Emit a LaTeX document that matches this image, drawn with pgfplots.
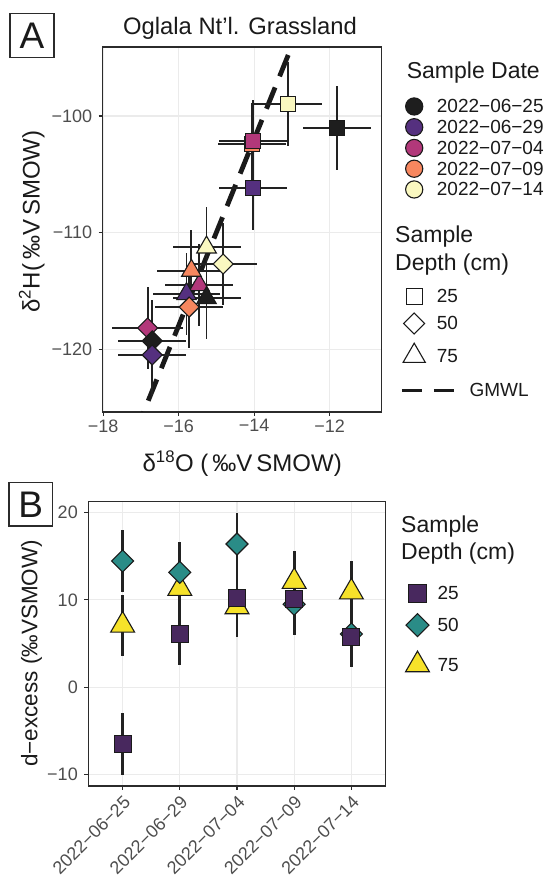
\documentclass[border=0pt]{standalone}
\usepackage{fontspec}
\setmainfont{Liberation Sans}
\usepackage{pgfplots}
\usepackage{pgfplotstable}
\pgfplotsset{compat=1.18}

% magma (dates) and viridis (depths)
\definecolor{dA}{HTML}{1E1E1E}
\definecolor{dB}{HTML}{55307F}
\definecolor{dC}{HTML}{B2387A}
\definecolor{dD}{HTML}{F7875F}
\definecolor{dE}{HTML}{FAF8C0}
\definecolor{vA}{HTML}{48285E}
\definecolor{vB}{HTML}{2A8C87}
\definecolor{vC}{HTML}{F6E22A}
\definecolor{olk}{HTML}{1A1A1A}
\definecolor{ebc}{HTML}{222222}
\definecolor{gridc}{HTML}{EBEBEB}
\definecolor{tcol}{HTML}{4D4D4D}
\definecolor{frm}{HTML}{2B2B2B}

\pgfdeclareplotmark{rdiamond}{%
  \pgfpathmoveto{\pgfqpoint{0pt}{\pgfplotmarksize}}%
  \pgfpathlineto{\pgfqpoint{\pgfplotmarksize}{0pt}}%
  \pgfpathlineto{\pgfqpoint{0pt}{-\pgfplotmarksize}}%
  \pgfpathlineto{\pgfqpoint{-\pgfplotmarksize}{0pt}}%
  \pgfpathclose
  \pgfusepathqfillstroke}

% panel A: d18O, d2H, errors, date
\pgfplotstableread{
x y ex ey d
-14.06 -102.40 0.9 3.5 D
-14.04 -102.15 0.9 3.5 C
-14.02 -106.20 0.9 3.6 B
-11.81 -101.00 0.9 3.6 A
-13.09 -98.97 0.9 3.6 E
}\sqtab
\pgfplotstableread{
x y ex ey d
-15.45 -114.50 0.9 3.5 C
-15.79 -115.27 0.9 3.5 B
-15.66 -113.27 0.9 3.5 D
-15.26 -111.27 0.9 3.5 E
-15.26 -115.62 0.9 3.5 A
}\tritab
\pgfplotstableread{
x y ex ey d
-16.82 -118.20 0.95 3.5 C
-16.70 -119.30 0.9 3.5 A
-16.70 -120.50 0.9 3.5 B
-15.72 -116.40 0.9 3.5 D
-14.82 -112.70 0.9 3.5 E
}\diatab

% panel B: d-excess by date and depth
\pgfplotstableread{
x d25 d50 d75 e
1 -6.5 14.45 7.1 3.5
2 6.1 13.15 11.3 3.5
3 10.2 16.4 9.2 3.5
4 10.1 9.5 12.1 3.5
5 5.8 6.1 10.9 3.5
}\dex

\pgfplotsset{
  panel/.style={scale only axis, anchor=south west,
    grid=major, major grid style={gridc, line width=1.1pt},
    axis line style={frm, line width=1.4pt},
    tick align=outside, tick pos=left, major tick length=4pt,
    tick style={frm, line width=1.1pt},
    ticklabel style={font=\fontsize{18}{18}\selectfont, text=tcol},
    yticklabel style={xshift=-3pt},
    label style={text=olk}},
  datecls/.style={scatter, only marks, scatter src=explicit symbolic,
    mark options={draw=olk, line width=1.1pt},
    scatter/classes={
      A={draw=olk, fill=dA}, B={draw=olk, fill=dB}, C={draw=olk, fill=dC},
      D={draw=olk, fill=dD}, E={draw=olk, fill=dE}}},
  ebars/.style={only marks, mark=none, error bars/.cd,
    x dir=both, x explicit, y dir=both, y explicit, error mark=none,
    error bar style={line width=1.9pt, ebc}},
  % small hidden axis whose top-left corner is the legend's top-left corner
  legax/.style={anchor=north west, scale only axis,
    width=1pt, height=1pt, xmin=0, xmax=1, ymin=0, ymax=1,
    hide axis, legend cell align=left,
    legend style={at={(0,1)}, anchor=north west, draw=none, fill=none,
      inner sep=0pt, row sep=0pt, column sep=0pt,
      font=\fontsize{19}{19}\selectfont, text=olk,
      nodes={inner sep=0pt, text height=13pt, text depth=0pt}}},
}

\begin{document}
\begin{tikzpicture}
\useasboundingbox (0pt,0pt) rectangle (547pt,877pt);

% ---------------- panel A ----------------
\begin{axis}[panel, at={(102.7pt,465pt)}, width=279pt, height=365pt,
  xmin=-18.01, xmax=-10.62, ymin=-125.4, ymax=-94.08,
  xtick={-18,-16,-14,-12}, xticklabels={−18,−16,−14,−12},
  ytick={-120,-110,-100}, yticklabels={−120,−110,−100},
  xlabel={δ\textsuperscript{18}O (\,‰V\,SMOW)},
  ylabel={δ\textsuperscript{2}H(\,‰V\,SMOW)},
  label style={font=\fontsize{24}{24}\selectfont},
  xlabel style={at={(axis description cs:0.5,0)}, anchor=base, yshift=-59.7pt},
  ylabel style={at={(axis description cs:-0.2258,0.522)}, anchor=base},
]
\addplot[dash pattern=on 23pt off 12pt, line width=4.8pt, olk] coordinates {(-17.5,-130) (-12.5,-90)};
\addplot[ebars] table[x=x, y=y, x error=ex, y error=ey] {\sqtab};
\addplot[ebars] table[x=x, y=y, x error=ex, y error=ey] {\tritab};
\addplot[ebars] table[x=x, y=y, x error=ex, y error=ey] {\diatab};
\addplot[datecls, mark=square*, mark size=7.5pt] table[x=x, y=y, meta=d] {\sqtab};
\addplot[datecls, mark=triangle*, mark size=11.3pt] table[x=x, y=y, meta=d] {\tritab};
\addplot[datecls, mark=rdiamond, mark size=10pt] table[x=x, y=y, meta=d] {\diatab};
\end{axis}

% ---------------- panel B ----------------
\begin{axis}[panel, at={(88.3pt,91pt)}, width=297.4pt, height=284.3pt,
  xmin=0.4, xmax=5.6, ymin=-11.3, ymax=21.24,
  xtick={1,2,3,4,5},
  xticklabels={2022−06−25,2022−06−29,2022−07−04,2022−07−09,2022−07−14},
  xticklabel style={rotate=45, anchor=north east},
  ytick={-10,0,10,20}, yticklabels={−10,0,10,20},
  ylabel={d−excess (‰VSMOW)},
  label style={font=\fontsize{22.5}{22.5}\selectfont},
  ylabel style={at={(axis description cs:-0.1715,0.467)}, anchor=base},
]
\addplot[only marks, mark=none, error bars/.cd, y dir=both, y explicit, error mark=none,
  error bar style={line width=2.7pt, ebc}] table[x=x, y=d75, y error=e] {\dex};
\addplot[only marks, mark=none, error bars/.cd, y dir=both, y explicit, error mark=none,
  error bar style={line width=2.7pt, ebc}] table[x=x, y=d50, y error=e] {\dex};
\addplot[only marks, mark=none, error bars/.cd, y dir=both, y explicit, error mark=none,
  error bar style={line width=2.7pt, ebc}] table[x=x, y=d25, y error=e] {\dex};
\addplot[only marks, mark=triangle*, mark size=13.8pt,
  mark options={draw=olk, line width=1.1pt, fill=vC}] table[x=x, y=d75] {\dex};
\addplot[only marks, mark=rdiamond, mark size=11pt,
  mark options={draw=olk, line width=1.1pt, fill=vB}] table[x=x, y=d50] {\dex};
\addplot[only marks, mark=square*, mark size=8.5pt,
  mark options={draw=olk, line width=1.1pt, fill=vA}] table[x=x, y=d25] {\dex};
\end{axis}

% ---------------- legends ----------------
\begin{axis}[legax, at={(403pt,781.1pt)}]
\addlegendimage{legend image code/.code={\path[draw=none, fill=none] (0pt,-10.375pt) rectangle (33.7pt,10.375pt);
  \draw[overlay, draw=olk, line width=1.1pt, fill=dA] (11pt,0pt) circle (8.6pt);}}
\addlegendentry{2022−06−25}
\addlegendimage{legend image code/.code={\path[draw=none, fill=none] (0pt,-10.375pt) rectangle (33.7pt,10.375pt);
  \draw[overlay, draw=olk, line width=1.1pt, fill=dB] (11pt,0pt) circle (8.6pt);}}
\addlegendentry{2022−06−29}
\addlegendimage{legend image code/.code={\path[draw=none, fill=none] (0pt,-10.375pt) rectangle (33.7pt,10.375pt);
  \draw[overlay, draw=olk, line width=1.1pt, fill=dC] (11pt,0pt) circle (8.6pt);}}
\addlegendentry{2022−07−04}
\addlegendimage{legend image code/.code={\path[draw=none, fill=none] (0pt,-10.375pt) rectangle (33.7pt,10.375pt);
  \draw[overlay, draw=olk, line width=1.1pt, fill=dD] (11pt,0pt) circle (8.6pt);}}
\addlegendentry{2022−07−09}
\addlegendimage{legend image code/.code={\path[draw=none, fill=none] (0pt,-10.375pt) rectangle (33.7pt,10.375pt);
  \draw[overlay, draw=olk, line width=1.1pt, fill=dE] (11pt,0pt) circle (8.6pt);}}
\addlegendentry{2022−07−14}
\end{axis}

\begin{axis}[legax, at={(403pt,594.2pt)}]
\addlegendimage{legend image code/.code={\path[draw=none, fill=none] (0pt,-13.5pt) rectangle (33.7pt,13.5pt);
  \draw[overlay, draw=olk, line width=1.1pt, fill=white] (3pt,-8pt) rectangle (19pt,8pt);}}
\addlegendentry{25}
\addlegendimage{legend image code/.code={\path[draw=none, fill=none] (0pt,-13.5pt) rectangle (33.7pt,13.5pt);
  \draw[overlay, draw=olk, line width=1.1pt, fill=white] (11pt,10.5pt) -- (21.5pt,0pt) -- (11pt,-10.5pt) -- (0.5pt,0pt) -- cycle;}}
\addlegendentry{50}
\addlegendimage{legend image code/.code={\path[draw=none, fill=none] (0pt,-19pt) rectangle (33.7pt,19pt);
  \draw[overlay, draw=olk, line width=1.1pt, fill=white] (11pt,12.8pt) -- (22.1pt,-6.4pt) -- (-0.1pt,-6.4pt) -- cycle;}}
\addlegendentry{75}
\addlegendimage{legend image code/.code={\path[draw=none, fill=none] (0pt,-15.5pt) rectangle (33.7pt,15.5pt);
  \draw[overlay, olk, line width=2.7pt, dash pattern=on 20pt off 12pt] (-1.3pt,0pt) -- (52pt,0pt);}}
\addlegendentry{\hspace{32.6pt}GMWL}
\end{axis}

\begin{axis}[legax, at={(406.3pt,298pt)}]
\addlegendimage{legend image code/.code={\path[draw=none, fill=none] (0pt,-14pt) rectangle (31pt,14pt);
  \draw[overlay, draw=olk, line width=1.1pt, fill=vA] (2pt,-9pt) rectangle (20pt,9pt);}}
\addlegendentry{25}
\addlegendimage{legend image code/.code={\path[draw=none, fill=none] (0pt,-18pt) rectangle (31pt,18pt);
  \draw[overlay, draw=olk, line width=1.1pt, fill=vB] (11pt,11.5pt) -- (22.5pt,0pt) -- (11pt,-11.5pt) -- (-0.5pt,0pt) -- cycle;}}
\addlegendentry{50}
\addlegendimage{legend image code/.code={\path[draw=none, fill=none] (0pt,-21.7pt) rectangle (31pt,21.7pt);
  \draw[overlay, draw=olk, line width=1.1pt, fill=vC] (11pt,13.8pt) -- (22.95pt,-6.9pt) -- (-0.95pt,-6.9pt) -- cycle;}}
\addlegendentry{75}
\end{axis}

% ---------------- titles and panel tags ----------------
\node[anchor=base, font=\fontsize{23.8}{23.8}\selectfont, text=olk] at (240pt,842pt) {Oglala Nt’l. Grassland};
\node[draw=frm, line width=1.2pt, minimum size=44pt, inner sep=0pt,
  font=\fontsize{37}{37}\selectfont, text=olk] at (32pt,841.7pt) {A};
\node[draw=frm, line width=1.2pt, minimum size=43.3pt, inner sep=0pt,
  font=\fontsize{37}{37}\selectfont, text=olk] at (30.7pt,372.7pt) {B};
\begin{scope}[font=\fontsize{23}{23}\selectfont, text=olk]
\node[anchor=base west] at (403.3pt,798pt) {Sample Date};
\node[anchor=base west] at (391.7pt,634pt) {Sample};
\node[anchor=base west] at (391.7pt,606.3pt) {Depth (cm)};
\node[anchor=base west] at (397.7pt,344.7pt) {Sample};
\node[anchor=base west] at (397.7pt,317pt) {Depth (cm)};
\end{scope}
\end{tikzpicture}
\end{document}
